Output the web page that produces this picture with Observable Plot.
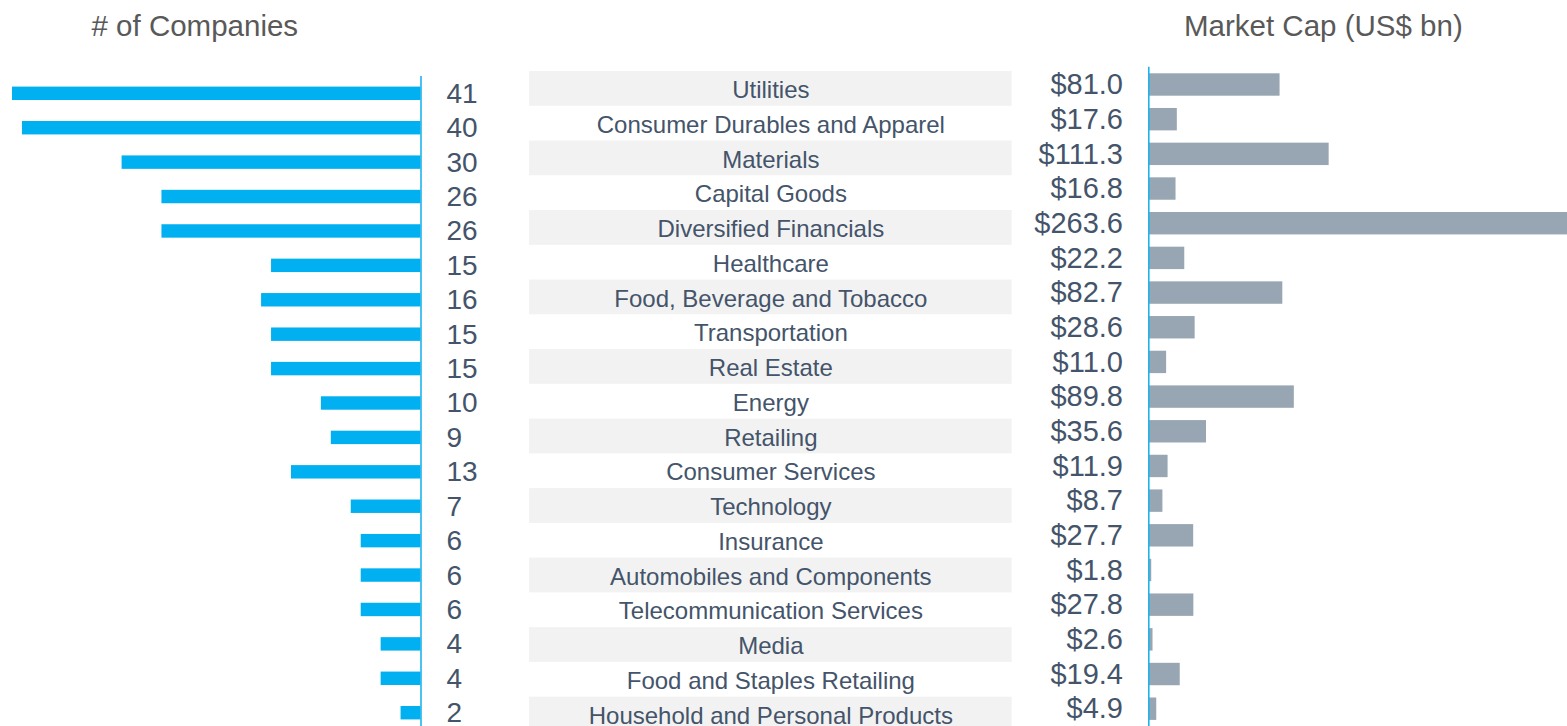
<!DOCTYPE html>
<html>
<head>
<meta charset="utf-8">
<script src="https://cdn.jsdelivr.net/npm/d3@7"></script>
<script src="https://cdn.jsdelivr.net/npm/@observablehq/plot@0.6"></script>
<style>
  html, body { margin: 0; padding: 0; background: #fff; overflow: hidden; }
  #wrap { position: relative; width: 1567px; height: 726px; font-family: "Liberation Sans", Arial, sans-serif; }
  .hdr { position: absolute; top: 11px; font-size: 29.5px; line-height: 1; color: #595959; white-space: nowrap; }
</style>
</head>
<body>
<div id="wrap">
  <div class="hdr" id="hL"></div>
  <div class="hdr" id="hR"></div>
</div>
<script>
const categories = [
  "Utilities", "Consumer Durables and Apparel", "Materials", "Capital Goods",
  "Diversified Financials", "Healthcare", "Food, Beverage and Tobacco", "Transportation",
  "Real Estate", "Energy", "Retailing", "Consumer Services", "Technology", "Insurance",
  "Automobiles and Components", "Telecommunication Services", "Media",
  "Food and Staples Retailing", "Household and Personal Products"
];
const companies = [41, 40, 30, 26, 26, 15, 16, 15, 15, 10, 9, 13, 7, 6, 6, 6, 4, 4, 2];
const marketCap = [81.0, 17.6, 111.3, 16.8, 263.6, 22.2, 82.7, 28.6, 11.0, 89.8, 35.6, 11.9, 8.7, 27.7, 1.8, 27.8, 2.6, 19.4, 4.9];
const headerLeft = "# of Companies";
const headerRight = "Market Cap (US$ bn)";

const rows = categories.map((c, i) => ({category: c, companies: companies[i], cap: marketCap[i], idx: i}));
const font = '"Liberation Sans", Arial, sans-serif';
const textColor = "#44546A";
const wrap = document.getElementById("wrap");

document.getElementById("hL").textContent = headerLeft;
document.getElementById("hL").style.left = "91.5px";
document.getElementById("hR").textContent = headerRight;
document.getElementById("hR").style.left = "1184px";

function place(svg, left) {
  svg.style.position = "absolute";
  svg.style.left = left + "px";
  svg.style.top = "0px";
  svg.style.background = "transparent";
  svg.style.overflow = "hidden";
  wrap.appendChild(svg);
}

// Left panel: number of companies
const left = Plot.plot({
  width: 529, height: 726,
  marginTop: 76, marginBottom: 0, marginLeft: 0, marginRight: 0,
  style: {fontFamily: font, background: "transparent"},
  x: {axis: null, domain: [0, 41], range: [420.5, 12]},
  y: {axis: null, type: "band", round: false, domain: categories, range: [76.1, 729.9], paddingInner: 0.61, paddingOuter: 0.305},
  marks: [
    Plot.barX(rows, {x1: 0, x2: "companies", y: "category", fill: "#00B0F0"}),
    Plot.ruleX([0], {stroke: "#1fb3ee", strokeWidth: 1.6}),
    Plot.text(rows, {x: 0, y: "category", text: d => String(d.companies), dx: 25.5, textAnchor: "start", fontSize: 28, fill: textColor})
  ]
});
place(left, 0);

// Middle panel: category labels with alternating bands
const mid = Plot.plot({
  width: 483, height: 726,
  marginTop: 0, marginBottom: 0, marginLeft: 0, marginRight: 0,
  style: {fontFamily: font, background: "transparent"},
  x: {axis: null, domain: [0, 1], range: [0, 482.7]},
  y: {axis: null, type: "band", round: false, domain: categories, range: [71, 71 + 19 * 34.76], padding: 0},
  marks: [
    Plot.barX(rows.filter(d => d.idx % 2 === 0), {x1: 0, x2: 1, y: "category", fill: "#F2F2F2"}),
    Plot.text(rows, {x: 0.5, y: "category", text: "category", dy: 1.5, fontSize: 24, fill: textColor})
  ]
});
place(mid, 529);

// Right panel: market cap
const right = Plot.plot({
  width: 555, height: 726,
  marginTop: 66.7, marginBottom: 0, marginLeft: 0, marginRight: 0,
  style: {fontFamily: font, background: "transparent"},
  x: {axis: null, domain: [0, 263.6], range: [136.3, 136.3 + 263.6 * 1.6205]},
  y: {axis: null, type: "band", round: false, domain: categories, range: [67.16, 726.04], paddingInner: 0.354, paddingOuter: 0.177},
  marks: [
    Plot.barX(rows, {x1: 0, x2: "cap", y: "category", fill: "#97A6B2"}),
    Plot.ruleX([0], {stroke: "#1fb3ee", strokeWidth: 1.6}),
    Plot.text(rows, {x: 0, y: "category", text: d => "$" + d.cap.toFixed(1), dx: -25.8, textAnchor: "end", fontSize: 29, fill: textColor})
  ]
});
place(right, 1012);
</script>
</body>
</html>
